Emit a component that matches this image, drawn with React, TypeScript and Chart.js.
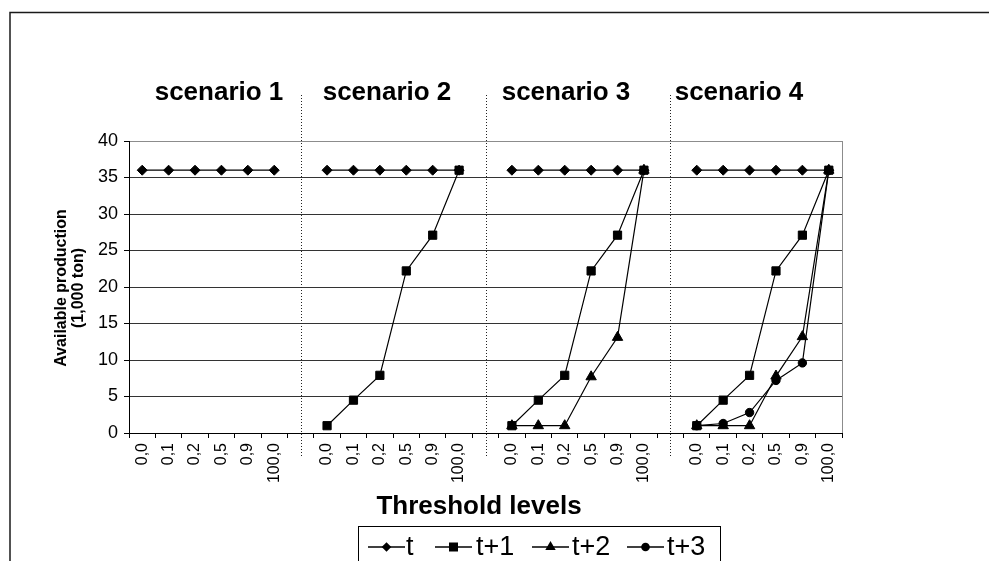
import React, { useEffect, useRef } from 'react';
import { Chart, registerables } from 'chart.js';

Chart.register(...registerables);

// ---------- data ----------
const thresholds = ['0,0', '0,1', '0,2', '0,5', '0,9', '100,0'];
const scenarioNames = ['scenario 1', 'scenario 2', 'scenario 3', 'scenario 4'];
const seriesNames = ['t', 't+1', 't+2', 't+3'];
const valuesT: (number[] | null)[] = [
  [36, 36, 36, 36, 36, 36],
  [36, 36, 36, 36, 36, 36],
  [36, 36, 36, 36, 36, 36],
  [36, 36, 36, 36, 36, 36],
];
const valuesT1: (number[] | null)[] = [
  null,
  [1, 4.5, 7.9, 22.2, 27.1, 36],
  [1, 4.5, 7.9, 22.2, 27.1, 36],
  [1, 4.5, 7.9, 22.2, 27.1, 36],
];
const valuesT2: (number[] | null)[] = [
  null,
  null,
  [1, 1, 1, 7.7, 13.1, 36],
  [1, 1, 1, 7.8, 13.2, 36],
];
const valuesT3: (number[] | null)[] = [null, null, null, [1, 1.3, 2.8, 7.2, 9.6, 36]];
const yMin = 0;
const yMax = 40;
const yStep = 5;
const yTitle = ['Available production', '(1,000 ton)'];
const xTitle = 'Threshold levels';

// ---------- build category table (blank separator slot between scenarios) ----------
const labels: string[] = [];
const separatorIdx: number[] = [];
scenarioNames.forEach((_, i) => {
  thresholds.forEach((t) => labels.push(t));
  if (i < scenarioNames.length - 1) {
    separatorIdx.push(labels.length);
    labels.push('');
  }
});

function flatten(vals: (number[] | null)[]): (number | null)[] {
  const out: (number | null)[] = [];
  vals.forEach((s, i) => {
    if (s) out.push(...s);
    else out.push(...thresholds.map(() => null));
    if (i < vals.length - 1) out.push(null);
  });
  return out;
}

const FONT = "'Liberation Sans', Arial, Helvetica, sans-serif";
const markerStyles = ['rectRot', 'rect', 'triangle', 'circle'];
const markerRadius = [5, 5.8, 6, 4.2];
const allValues = [valuesT, valuesT1, valuesT2, valuesT3];

function drawMarker(ctx: CanvasRenderingContext2D, style: string, x: number, y: number) {
  ctx.beginPath();
  if (style === 'rectRot') {
    const r = 4.8;
    ctx.moveTo(x, y - r);
    ctx.lineTo(x + r, y);
    ctx.lineTo(x, y + r);
    ctx.lineTo(x - r, y);
    ctx.closePath();
  } else if (style === 'rect') {
    ctx.rect(x - 4.5, y - 4.5, 9, 9);
  } else if (style === 'triangle') {
    const r = 6;
    ctx.moveTo(x, y - r);
    ctx.lineTo(x + r * 0.866, y + r * 0.5);
    ctx.lineTo(x - r * 0.866, y + r * 0.5);
    ctx.closePath();
  } else {
    ctx.arc(x, y, 4.3, 0, Math.PI * 2);
  }
  ctx.fill();
}

const decorPlugin = {
  id: 'decor',
  afterDraw(chart: any) {
    const ctx: CanvasRenderingContext2D = chart.ctx;
    const area = chart.chartArea;
    const xs = chart.scales.x;
    ctx.save();

    // outer frame (top & left visible)
    ctx.strokeStyle = '#1a1a1a';
    ctx.lineWidth = 1.5;
    ctx.beginPath();
    ctx.moveTo(10, 600);
    ctx.lineTo(10, 12.5);
    ctx.lineTo(1000, 12.5);
    ctx.stroke();

    // right border of plot area
    ctx.strokeStyle = '#8c8c8c';
    ctx.lineWidth = 1;
    ctx.beginPath();
    ctx.moveTo(Math.round(area.right) + 0.5, area.top);
    ctx.lineTo(Math.round(area.right) + 0.5, area.bottom);
    ctx.stroke();

    // dotted separators
    ctx.strokeStyle = '#222';
    ctx.setLineDash([1, 2]);
    separatorIdx.forEach((idx) => {
      const x = Math.round(xs.getPixelForValue(idx)) + 0.5;
      ctx.beginPath();
      ctx.moveTo(x, 95);
      ctx.lineTo(x, 457);
      ctx.stroke();
    });
    ctx.setLineDash([]);

    // scenario titles
    const titleX = [219, 387, 566, 739];
    ctx.fillStyle = '#000';
    ctx.font = `bold 26px ${FONT}`;
    ctx.textAlign = 'center';
    ctx.textBaseline = 'middle';
    scenarioNames.forEach((n, i) => ctx.fillText(n, titleX[i], 93));

    // x title
    ctx.fillText(xTitle, 479, 507);

    // y title
    ctx.font = `bold 16px ${FONT}`;
    ctx.save();
    ctx.translate(70, 288);
    ctx.rotate(-Math.PI / 2);
    ctx.fillText(yTitle[0], 0, -8.5);
    ctx.fillText(yTitle[1], 0, 8.5);
    ctx.restore();

    // legend
    ctx.strokeStyle = '#000';
    ctx.lineWidth = 1;
    ctx.strokeRect(358.5, 526.5, 362, 60);
    const items = [
      { x0: 368, x1: 405, tx: 406 },
      { x0: 435, x1: 472, tx: 476 },
      { x0: 532, x1: 569, tx: 572 },
      { x0: 627, x1: 664, tx: 667 },
    ];
    const ly = 547;
    ctx.font = `27px ${FONT}`;
    ctx.textAlign = 'left';
    ctx.textBaseline = 'middle';
    items.forEach((it, i) => {
      ctx.lineWidth = 1.3;
      ctx.beginPath();
      ctx.moveTo(it.x0, ly);
      ctx.lineTo(it.x1, ly);
      ctx.stroke();
      ctx.fillStyle = '#000';
      drawMarker(ctx, markerStyles[i], (it.x0 + it.x1) / 2, ly);
      ctx.fillText(seriesNames[i], it.tx, ly + 1);
    });

    ctx.restore();
  },
};

export default function App() {
  const ref = useRef<HTMLCanvasElement>(null);
  useEffect(() => {
    if (!ref.current) return;
    Chart.defaults.font.family = FONT;
    const chart = new Chart(ref.current, {
      type: 'line',
      data: {
        labels,
        datasets: seriesNames.map((name, i) => ({
          label: name,
          data: flatten(allValues[i]),
          borderColor: '#000',
          backgroundColor: '#000',
          borderWidth: 1.2,
          pointStyle: markerStyles[i] as any,
          pointRadius: markerRadius[i],
          pointBorderWidth: 1,
          pointBorderColor: '#000',
          pointBackgroundColor: '#000',
          spanGaps: false,
          tension: 0,
          fill: false,
        })),
      },
      options: {
        animation: false,
        responsive: false,
        events: [],
        layout: { padding: { left: 0, top: 141, right: 147, bottom: 68 } },
        plugins: { legend: { display: false }, tooltip: { enabled: false }, title: { display: false } },
        scales: {
          x: {
            type: 'category',
            offset: true,
            grid: { offset: true, drawOnChartArea: false, drawTicks: true, tickLength: 5, color: '#000' },
            border: { color: '#000', width: 1 },
            ticks: {
              autoSkip: false,
              minRotation: 90,
              maxRotation: 90,
              padding: 5,
              color: '#000',
              font: { family: FONT, size: 16 },
            },
            afterFit(scale: any) {
              scale.height = 60;
              scale.paddingLeft = 0;
              scale.paddingRight = 0;
              scale.paddingTop = 0;
              scale.paddingBottom = 0;
            },
          },
          y: {
            min: yMin,
            max: yMax,
            ticks: { stepSize: yStep, color: '#000', padding: 6, font: { family: FONT, size: 18 } },
            grid: {
              color: (c: any) => (c.tick && c.tick.value === yMax ? '#8c8c8c' : '#333'),
              tickColor: '#000',
              tickLength: 5,
              drawTicks: true,
            },
            border: { color: '#000', width: 1 },
            afterFit(scale: any) {
              scale.width = 129;
              scale.paddingLeft = 0;
              scale.paddingRight = 0;
              scale.paddingTop = 0;
              scale.paddingBottom = 0;
            },
          },
        },
      },
      plugins: [decorPlugin],
    });
    return () => chart.destroy();
  }, []);
  return (
    <div style={{ position: 'absolute', left: 0, top: 0, width: 989, height: 561, background: '#fff' }}>
      <canvas ref={ref} width={989} height={561} style={{ display: 'block' }} />
    </div>
  );
}
